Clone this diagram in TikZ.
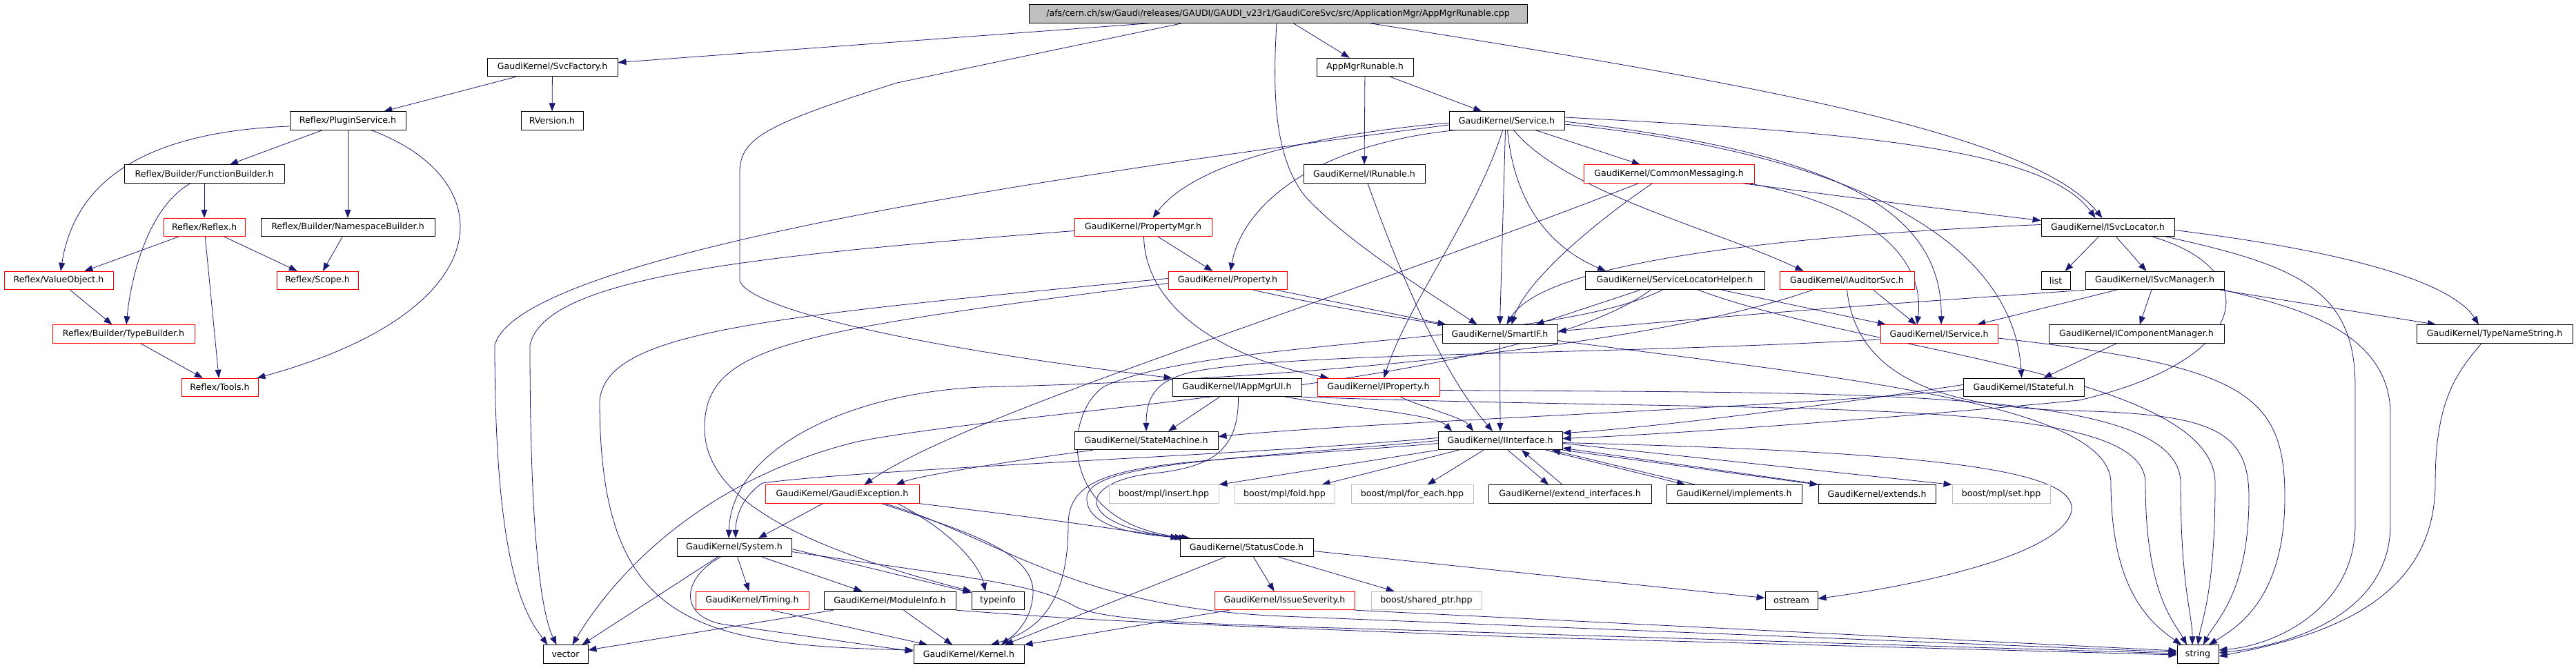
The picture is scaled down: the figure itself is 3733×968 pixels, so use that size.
\documentclass[tikz,border=0pt]{standalone}
\usepackage{fontspec}
\setmainfont{DejaVu Sans}
\usetikzlibrary{arrows.meta,backgrounds}
\definecolor{edgeblue}{HTML}{191970}
\definecolor{boxred}{HTML}{FF0000}
\definecolor{boxgray}{HTML}{BFBFBF}
\newcommand{\gfont}{\fontsize{12.6}{15}\selectfont}
\tikzset{
  file/.style={draw=black,fill=white,line width=0.9pt,minimum height=26.5pt,inner sep=0pt,font=\gfont},
  trunc/.style={file,draw=boxred},
  ext/.style={file,draw=boxgray},
  dep/.style={draw=edgeblue,line width=0.8pt,-{Triangle[length=12pt,width=9pt]}}
}

\begin{document}
\begin{tikzpicture}[x=1pt,y=-1pt]
      \useasboundingbox (0,0) rectangle (3733,968);

      \node[file,fill=boxgray,minimum width=722pt](root) at (1852,20){/afs/cern.ch/sw/Gaudi/releases/GAUDI/GAUDI\_v23r1/GaudiCoreSvc/src/ApplicationMgr/AppMgrRunable.cpp};
      \node[file,minimum width=189pt](svcfac) at (800.5,97.5){GaudiKernel/SvcFactory.h};
      \node[file,minimum width=140pt](amrun) at (1978,97.5){AppMgrRunable.h};
      \node[file,minimum width=90pt](rversion) at (800,175){RVersion.h};
      \node[file,minimum width=168pt](plugin) at (504,175){Reflex/PluginService.h};
      \node[file,minimum width=167pt](service) at (2183.5,175){GaudiKernel/Service.h};
      \node[file,minimum width=232pt](funcb) at (296,252){Reflex/Builder/FunctionBuilder.h};
      \node[file,minimum width=176pt](irun) at (1977,252){GaudiKernel/IRunable.h};
      \node[trunc,minimum width=247pt](cmsg) at (2418.5,252){GaudiKernel/CommonMessaging.h};
      \node[trunc,minimum width=118pt](reflex) at (296,329.5){Reflex/Reflex.h};
      \node[file,minimum width=252pt](nsb) at (504,329.5){Reflex/Builder/NamespaceBuilder.h};
      \node[trunc,minimum width=199pt](propmgr) at (1656.5,329.5){GaudiKernel/PropertyMgr.h};
      \node[file,minimum width=193pt](isvcloc) at (3054.5,329.5){GaudiKernel/ISvcLocator.h};
      \node[trunc,minimum width=158pt](valobj) at (85,406.5){Reflex/ValueObject.h};
      \node[trunc,minimum width=118pt](scope) at (460,406.5){Reflex/Scope.h};
      \node[trunc,minimum width=172pt](prop) at (1779,406.5){GaudiKernel/Property.h};
      \node[file,minimum width=260pt](slh) at (2427,406.5){GaudiKernel/ServiceLocatorHelper.h};
      \node[trunc,minimum width=195pt](iaud) at (2676.5,406.5){GaudiKernel/IAuditorSvc.h};
      \node[file,minimum width=42pt](list) at (2979,406.5){list};
      \node[file,minimum width=201pt](isvcmgr) at (3122.5,406.5){GaudiKernel/ISvcManager.h};
      \node[trunc,minimum width=206pt](typeb) at (179,484){Reflex/Builder/TypeBuilder.h};
      \node[file,minimum width=167pt](smartif) at (2173.5,484){GaudiKernel/SmartIF.h};
      \node[trunc,minimum width=170pt](isvc) at (2810,484){GaudiKernel/IService.h};
      \node[file,minimum width=254pt](icompmgr) at (3096,484){GaudiKernel/IComponentManager.h};
      \node[file,minimum width=226pt](tns) at (3615,484){GaudiKernel/TypeNameString.h};
      \node[trunc,minimum width=111pt](tools) at (318.5,561.5){Reflex/Tools.h};
      \node[file,minimum width=187pt](iappui) at (1792.5,561.5){GaudiKernel/IAppMgrUI.h};
      \node[trunc,minimum width=177pt](iprop) at (1997.5,561.5){GaudiKernel/IProperty.h};
      \node[file,minimum width=175pt](istate) at (2932.5,561.5){GaudiKernel/IStateful.h};
      \node[file,minimum width=208pt](statem) at (1661,638.5){GaudiKernel/StateMachine.h};
      \node[file,minimum width=180pt](iface) at (2174,638.5){GaudiKernel/IInterface.h};
      \node[trunc,minimum width=223pt](gexc) at (1220.5,716){GaudiKernel/GaudiException.h};
      \node[ext,minimum width=159pt](insert) at (1686.5,716){boost/mpl/insert.hpp};
      \node[ext,minimum width=145pt](fold) at (1861.5,716){boost/mpl/fold.hpp};
      \node[ext,minimum width=177pt](foreach) at (2046.5,716){boost/mpl/for\_each.hpp};
      \node[file,minimum width=236pt](extif) at (2275,716){GaudiKernel/extend\_interfaces.h};
      \node[file,minimum width=196pt](impl) at (2513,716){GaudiKernel/implements.h};
      \node[file,minimum width=170pt](extends) at (2720,716){GaudiKernel/extends.h};
      \node[ext,minimum width=142pt](mplset) at (2900,716){boost/mpl/set.hpp};
      \node[file,minimum width=166pt](system) at (1064,793.5){GaudiKernel/System.h};
      \node[file,minimum width=193pt](stcode) at (1806.5,793.5){GaudiKernel/StatusCode.h};
      \node[trunc,minimum width=164pt](timing) at (1090,870.5){GaudiKernel/Timing.h};
      \node[file,minimum width=191pt](modinfo) at (1289.5,870.5){GaudiKernel/ModuleInfo.h};
      \node[file,minimum width=76pt](typeinfo) at (1446,870.5){typeinfo};
      \node[trunc,minimum width=203pt](issue) at (1861.5,870.5){GaudiKernel/IssueSeverity.h};
      \node[ext,minimum width=160pt](shptr) at (2067,870.5){boost/shared\_ptr.hpp};
      \node[file,minimum width=76pt](ostream) at (2596,870.5){ostream};
      \node[file,minimum width=65pt](vector) at (819.5,948){vector};
      \node[file,minimum width=160pt](kernel) at (1404,948){GaudiKernel/Kernel.h};
      \node[file,minimum width=60pt](string) at (3185,948){string};

      \begin{scope}[on background layer]
      \draw[dep] (root) -- (svcfac);
      \draw[dep] (root) -- (amrun);
      \draw[dep] ([xshift=-139pt]root.south) -- (1300,120) .. controls (1110,180) and (1072,200) .. (1072,250) -- (1072,407) .. controls (1085,445) and (1300,500) .. (iappui.north west);
      \draw[dep] ([xshift=-2pt]root.south) .. controls (1843,150) and (1850,230) .. (1890,283) .. controls (1950,350) and (2080,430) .. ([xshift=-33pt]smartif.north);
      \draw[dep] ([xshift=133pt]root.south) .. controls (2600,130) and (2950,200) .. ([xshift=-8pt]isvcloc.north);

      \draw[dep] (svcfac) -- (plugin);
      \draw[dep] (svcfac) -- (rversion);
      \draw[dep] (plugin) -- (funcb);
      \draw[dep] (plugin) -- (nsb);
      \draw[dep] ([yshift=-8pt]plugin.west) .. controls (230,190) and (110,250) .. ([xshift=3pt]valobj.north);
      \draw[dep] ([xshift=34pt]plugin.south) .. controls (730,260) and (730,450) .. ([xshift=-2pt]tools.north east);
      \draw[dep] (funcb) -- (reflex);
      \draw[dep] ([xshift=-20pt]funcb.south) .. controls (215,300) and (190,400) .. ([xshift=4pt]typeb.north);
      \draw[dep] (reflex) -- (valobj);
      \draw[dep] (reflex) -- (scope);
      \draw[dep] (reflex) -- (tools);
      \draw[dep] (nsb) -- (scope);
      \draw[dep] (valobj) -- (typeb);
      \draw[dep] (typeb) -- (tools);

      \draw[dep] (amrun) -- (service);
      \draw[dep] (amrun) -- (irun);
      \draw[dep] ([xshift=5pt]irun.south) .. controls (2030,400) and (2090,540) .. ([xshift=-11pt]iface.north);

      \draw[dep] ([yshift=-6pt]service.west) .. controls (1400,270) and (750,380) .. (717,500) .. controls (717,820) and (760,890) .. ([xshift=-26pt]vector.north);
      \draw[dep] ([yshift=-3pt]service.west) .. controls (1850,200) and (1720,250) .. ([xshift=14pt]propmgr.north);
      \draw[dep] ([xshift=-75pt]service.south) .. controls (1900,210) and (1800,300) .. ([xshift=4pt]prop.north);
      \draw[dep] ([xshift=-6pt]service.south) .. controls (2140,310) and (2040,440) .. ([xshift=8pt]iprop.north);
      \draw[dep] ([xshift=-2pt]service.south) -- (smartif.north);
      \draw[dep] ([xshift=1pt]service.south) .. controls (2195,300) and (2250,360) .. ([xshift=-100pt]slh.north);
      \draw[dep] ([xshift=10pt]service.south) .. controls (2270,280) and (2480,330) .. ([xshift=-63pt]iaud.north);
      \draw[dep] (service) -- (cmsg);
      \draw[dep] ([yshift=5pt]service.east) .. controls (2650,190) and (2960,210) .. ([xshift=-18pt]isvcloc.north);
      \draw[dep] ([yshift=-1pt]service.east) .. controls (2650,220) and (2815,300) .. ([xshift=3pt]isvc.north);
      \draw[dep] ([yshift=-5pt]service.east) .. controls (2750,230) and (2920,380) .. ([xshift=-3pt]istate.north);

      \draw[dep] ([xshift=-44pt]cmsg.south) .. controls (1900,450) and (1400,600) .. ([xshift=32pt]gexc.north);
      \draw[dep] ([xshift=-24pt]cmsg.south) .. controls (2300,330) and (2210,410) .. ([xshift=17pt]smartif.north);
      \draw[dep] ([xshift=106pt]cmsg.south) .. controls (2750,295) .. ([yshift=10pt]isvcloc.west);
      \draw[dep] ([xshift=116pt]cmsg.south) .. controls (2720,300) and (2790,380) .. ([xshift=-32pt]isvc.north);

      \draw[dep] ([yshift=-5pt]propmgr.west) .. controls (1100,370) and (790,400) .. (768,500) .. controls (768,820) and (790,900) .. ([xshift=-13pt]vector.north);
      \draw[dep] (propmgr) -- (prop);
      \draw[dep] ([xshift=1pt]propmgr.south) .. controls (1660,450) and (1780,520) .. ([xshift=-72pt]iprop.north);

      \draw[dep] ([yshift=3pt]prop.west) .. controls (1100,460) and (880,480) .. (869,580) .. controls (869,900) and (1000,935) .. ([yshift=6pt]kernel.west);
      \draw[dep] ([yshift=-4pt]prop.west) .. controls (1150,480) and (1021,500) .. (1021,620) .. controls (1021,720) and (1150,790) .. (typeinfo.north west);
      \draw[dep] ([xshift=70pt]prop.south) -- ([xshift=-78pt]smartif.north);
      \draw[dep] ([xshift=37pt]prop.south) .. controls (2300,530) and (3059,540) .. (3059,700) .. controls (3059,860) and (3120,905) .. ([xshift=-24pt]string.north);

      \draw[dep] ([xshift=-50pt]slh.south) -- ([xshift=52pt]smartif.north);
      \draw[dep] ([xshift=68pt]slh.south) -- ([xshift=-77pt]isvc.north);
      \draw[dep] ([xshift=-18pt]slh.south) .. controls (2250,500) and (1750,490) .. (1600,560) .. controls (1540,600) and (1530,760) .. ([xshift=-82pt]stcode.north);
      \draw[dep] ([xshift=34pt]slh.south) .. controls (2700,510) and (3210,540) .. (3210,700) .. controls (3210,860) and (3190,900) .. (string.north);
      \draw[dep] ([xshift=-35pt]slh.south) .. controls (2200,560) and (1500,590) .. (1242,640) .. controls (1000,700) and (880,850) .. ([xshift=10pt]vector.north);

      \draw[dep] ([xshift=38pt]iaud.south) -- ([xshift=-33pt]isvc.north);
      \draw[dep] ([xshift=-50pt]iaud.south) .. controls (2400,500) and (1900,550) .. (1420,561) .. controls (1230,570) and (1060,650) .. ([xshift=-8pt]system.north);
      \draw[dep] (iaud.south) .. controls (2690,540) and (2800,590) .. (3000,595) .. controls (3200,600) and (3259,620) .. (3259,720) .. controls (3259,860) and (3210,900) .. ([xshift=8pt]string.north);

      \draw[dep] ([yshift=-8pt]isvc.west) .. controls (2300,515) and (1900,510) .. (1737,537) .. controls (1680,548) and (1661,570) .. (statem.north);
      \draw[dep] ([yshift=-6pt]isvc.east) .. controls (3250,530) and (3311,570) .. (3311,720) .. controls (3311,870) and (3240,910) .. ([xshift=16pt]string.north);

      \draw[dep] ([yshift=-3pt]istate.west) .. controls (2600,590) and (2000,610) .. ([yshift=6pt]statem.east);
      \draw[dep] ([yshift=4pt]istate.west) .. controls (2700,580) and (2400,620) .. ([yshift=11pt]iface.east);

      \draw[dep] (isvcloc) -- (list);
      \draw[dep] (isvcloc) -- (isvcmgr);
      \draw[dep] ([yshift=4pt]isvcloc.west) .. controls (2500,345) and (2230,390) .. ([xshift=10pt]smartif.north);
      \draw[dep] ([xshift=65pt]isvcloc.south) .. controls (3280,390) and (3270,520) .. (3013,580) .. controls (2700,610) and (2400,630) .. ([yshift=3pt]iface.east);
      \draw[dep] ([xshift=85pt]isvcloc.south) .. controls (3330,385) and (3413,420) .. (3413,560) -- (3413,760) .. controls (3413,880) and (3300,935) .. ([yshift=6pt]string.east);
      \draw[dep] ([yshift=-4pt]isvcloc.east) .. controls (3450,370) and (3560,420) .. ([xshift=-23pt]tns.north);

      \draw[dep] (isvcmgr) -- (isvc);
      \draw[dep] (isvcmgr) -- (icompmgr);
      \draw[dep] ([xshift=95pt]isvcmgr.south) -- ([xshift=-85pt]tns.north);
      \draw[dep] (isvcmgr.south west) .. controls (2600,450) .. ([yshift=4pt]smartif.east);
      \draw[dep] ([xshift=100pt]isvcmgr.south) .. controls (3300,440) and (3464,470) .. (3464,600) -- (3464,760) .. controls (3464,890) and (3320,935) .. ([yshift=2pt]string.east);
      \draw[dep] (icompmgr) -- (istate);
      \draw[dep] ([xshift=-19pt]tns.south) .. controls (3560,540) and (3529,580) .. (3529,700) .. controls (3529,880) and (3350,925) .. ([yshift=-3pt]string.east);

      \draw[dep] ([xshift=-25pt]iappui.south) -- ([xshift=32pt]statem.north);
      \draw[dep] ([xshift=70pt]iappui.south) .. controls (1950,590) and (2080,600) .. ([xshift=-70pt]iface.north);
      \draw[dep] ([xshift=2pt]iappui.south) .. controls (1795,650) and (1760,675) .. (1680,685) .. controls (1560,695) and (1550,760) .. ([xshift=-92pt]stcode.north);
      \draw[dep] (iappui.south east) .. controls (2600,600) and (3109,570) .. (3109,700) .. controls (3109,860) and (3150,900) .. ([xshift=-16pt]string.north);

      \draw[dep] ([xshift=32pt]iprop.south) .. controls (2060,590) and (2120,605) .. ([xshift=-39pt]iface.north);
      \draw[dep] ([yshift=-4pt]iprop.east) .. controls (2700,570) and (3160,560) .. (3160,700) .. controls (3160,850) and (3177,890) .. ([xshift=-8pt]string.north);
      \draw[dep] (smartif) -- (iface);
      \draw[dep] ([xshift=-77pt]statem.south) .. controls (1450,670) and (1330,690) .. ([xshift=78pt]gexc.north);

      \draw[dep] ([yshift=4pt]iface.west) .. controls (1800,660) and (1250,680) .. (1105,700) .. controls (1075,720) and (1066,750) .. ([xshift=2pt]system.north);
      \draw[dep] (iface.west) .. controls (1800,665) and (1580,670) .. (1575,720) .. controls (1572,765) and (1650,775) .. ([xshift=-86pt]stcode.north);
      \draw[dep] ([yshift=-4pt]iface.west) .. controls (1700,675) and (1548,660) .. (1548,760) .. controls (1548,880) and (1500,915) .. ([xshift=32pt]kernel.north);
      \draw[dep] (iface.south west) -- (insert.north east);
      \draw[dep] ([xshift=-60pt]iface.south) -- ([xshift=54pt]fold.north);
      \draw[dep] ([xshift=-24pt]iface.south) -- ([xshift=22pt]foreach.north);
      \draw[dep] ([xshift=11pt]iface.south) -- ([xshift=-31pt]extif.north);
      \draw[dep] ([xshift=-11pt]extif.north) -- ([xshift=31pt]iface.south);
      \draw[dep] ([xshift=66pt]iface.south) -- ([xshift=-71pt]impl.north);
      \draw[dep] ([xshift=-56pt]impl.north) -- ([xshift=75pt]iface.south);
      \draw[dep] (iface.south east) -- (extends.north west);
      \draw[dep] ([xshift=6pt]extends.north west) -- ([yshift=3pt]iface.south east);
      \draw[dep] ([yshift=-4pt]iface.east) -- (mplset.north west);
      \draw[dep] ([yshift=-3pt]iface.east) .. controls (2800,655) and (3010,680) .. (3002,740) .. controls (2990,800) and (2800,845) .. ([yshift=3pt]ostream.east);

      \draw[dep] ([xshift=-28pt]gexc.south) -- ([xshift=35pt]system.north);
      \draw[dep] (gexc.south east) .. controls (1500,750) .. ([xshift=-98pt]stcode.north);
      \draw[dep] ([xshift=57pt]gexc.south) .. controls (1400,770) and (1500,800) .. (1497,860) .. controls (1495,900) and (1470,920) .. ([xshift=47pt]kernel.north);
      \draw[dep] ([xshift=62pt]gexc.south) .. controls (1450,780) and (1550,880) .. (1859,893) -- ([yshift=3pt]string.west);
      \draw[dep] ([xshift=80pt]gexc.south) .. controls (1380,770) and (1420,820) .. ([xshift=-18pt]typeinfo.north);

      \draw[dep] ([xshift=-24pt]system.south) -- ([xshift=24pt]vector.north);
      \draw[dep] (system) -- (timing);
      \draw[dep] (system) -- (modinfo);
      \draw[dep] ([yshift=-2pt]system.east) -- ([yshift=-2pt]typeinfo.north west);
      \draw[dep] ([yshift=-6pt]system.east) .. controls (1420,840) and (1500,845) .. (1560,880) .. controls (1620,905) and (1800,905) .. (2200,918) -- ([yshift=1pt]string.west);
      \draw[dep] ([xshift=-20pt]system.south) .. controls (985,840) and (985,895) .. (1050,905) -- ([yshift=4pt]kernel.west);

      \draw[dep] ([xshift=10pt]stcode.south) -- ([xshift=-15pt]issue.north);
      \draw[dep] (stcode) -- (shptr);
      \draw[dep] ([xshift=-31pt]stcode.south) -- ([xshift=52pt]kernel.north);
      \draw[dep] ([yshift=-5pt]stcode.east) .. controls (2300,840) .. ([yshift=4pt]ostream.west);
      \draw[dep] ([xshift=-80pt]issue.south) -- (kernel.north east);
      \draw[dep] (issue.south east) -- ([yshift=5pt]string.west);
      \draw[dep] ([xshift=28pt]timing.south) -- ([xshift=-60pt]kernel.north);
      \draw[dep] ([xshift=-82pt]modinfo.south) -- ([yshift=6pt]vector.east);
      \draw[dep] ([xshift=20pt]modinfo.south) -- ([xshift=-24pt]kernel.north);
      \draw[dep] (modinfo.south east) .. controls (1600,900) .. (2200,923) -- ([yshift=-1pt]string.west);
      \end{scope}
\end{tikzpicture}
\end{document}
